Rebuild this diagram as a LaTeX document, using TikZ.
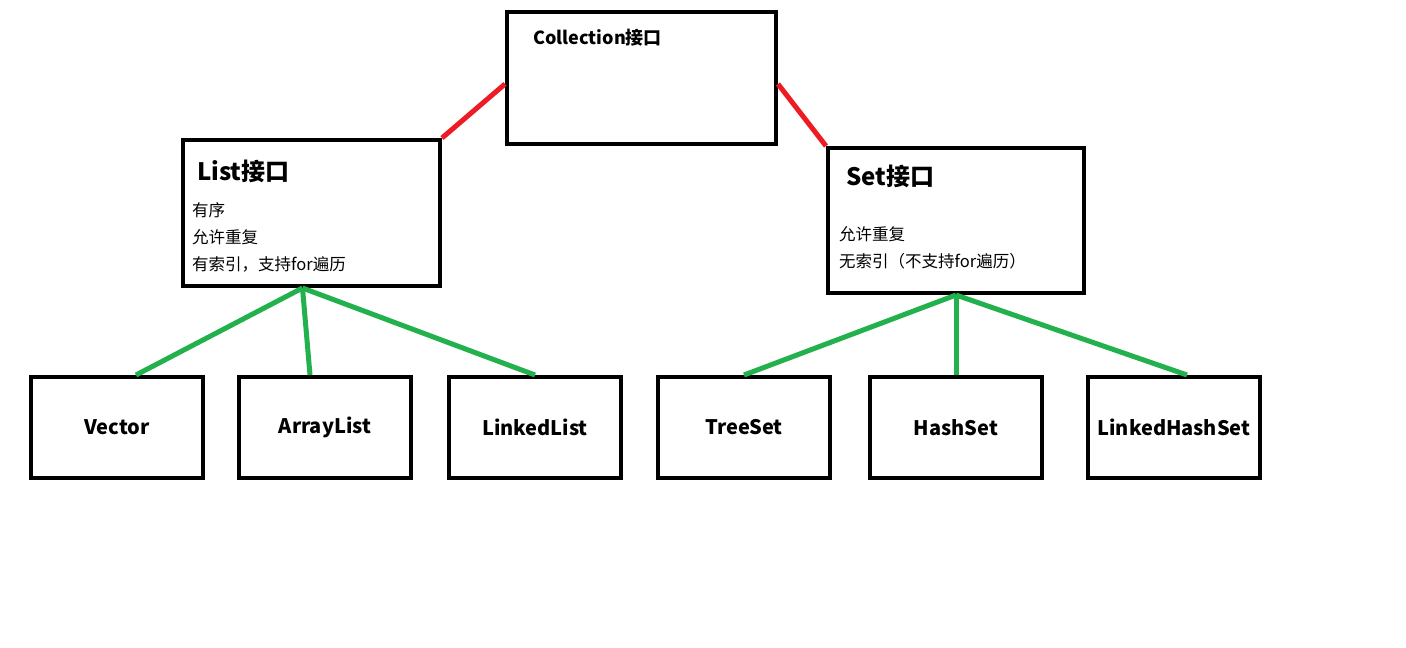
\documentclass[tikz,border=0pt]{standalone}
\usepackage{fontspec}
\setmainfont{Noto Sans CJK SC}
\usetikzlibrary{positioning}

\definecolor{paintred}{RGB}{237,28,36}
\definecolor{paintgreen}{RGB}{34,177,76}

\begin{document}
\begin{tikzpicture}[x=1pt,y=-1pt,node distance=32pt,
    box/.style={draw,line width=4pt,inner sep=0pt},
    leaf/.style={box,minimum width=172pt,minimum height=101pt,font=\fontsize{20}{24}\selectfont\bfseries},
    title/.style={anchor=west,inner sep=0pt,font=\fontsize{24}{28}\selectfont\bfseries},
    note/.style={anchor=west,inner sep=0pt,align=left,font=\fontsize{16.5}{27}\selectfont},
    redline/.style={draw=paintred,line width=5pt},
    greenline/.style={draw=paintgreen,line width=5pt}]
        \useasboundingbox (0,0) rectangle (1406,648);

        % interfaces
        \node[box,minimum width=269pt,minimum height=132pt] (coll) at (641.5,78) {};
        \node[box,minimum width=257pt,minimum height=146pt] (list) at (311.5,213) {};
        \node[box,minimum width=256pt,minimum height=145pt] (set) at (956,220.5) {};

        \node[anchor=west,inner sep=0pt,font=\fontsize{18}{22}\selectfont\bfseries] (colltitle)
            at ([shift={(28pt,-28pt)}]coll.north west) {Collection接口};
        \node[title] (listtitle) at ([shift={(16pt,-33pt)}]list.north west) {List接口};
        \node[note] (listnote) at ([shift={(11pt,-99pt)}]list.north west) {有序\\允许重复\\有索引，支持for遍历};
        \node[title] (settitle) at ([shift={(20pt,-30pt)}]set.north west) {Set接口};
        \node[note] (setnote) at ([shift={(13pt,-101.5pt)}]set.north west) {允许重复\\无索引（不支持for遍历）};

        % classes
        \node[leaf] (vec) at (117,427.5) {Vector};
        \node[leaf] (alist) [right=32pt of vec] {ArrayList};
        \node[leaf] (llist) [right=34pt of alist] {LinkedList};
        \node[leaf] (tset) [right=33pt of llist] {TreeSet};
        \node[leaf] (hset) [right=36pt of tset] {HashSet};
        \node[leaf] (lhset) [right=42pt of hset] {LinkedHashSet};

        \path[redline] ([yshift=-6pt]coll.west) -- (list.north east);
        \path[redline] ([yshift=-6pt]coll.east) -- (set.north west);

        \path[greenline] ([xshift=-9pt]list.south) -- ([xshift=19pt]vec.north);
        \path[greenline] ([xshift=-9pt]list.south) -- ([xshift=-15pt]alist.north);
        \path[greenline] ([xshift=-9pt]list.south) -- (llist.north);
        \path[greenline] (set.south) -- (tset.north);
        \path[greenline] (set.south) -- (hset.north);
        \path[greenline] (set.south) -- ([xshift=13pt]lhset.north);
      \end{tikzpicture}
\end{document}
